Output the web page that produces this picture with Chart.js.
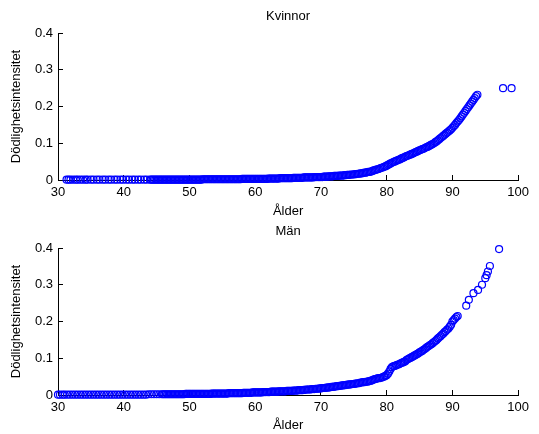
<!DOCTYPE html>
<html>
<head>
<meta charset="utf-8">
<title>Dödlighetsintensitet</title>
<script src="https://cdn.jsdelivr.net/npm/chart.js@4.4.1/dist/chart.umd.min.js"></script>
<style>
  html, body { margin: 0; padding: 0; background: #fff; }
  #wrap { position: relative; width: 539px; height: 434px; overflow: hidden; }
  #wrap canvas { position: absolute; left: 0; }
  #kvinnor { top: 0; }
  #man { top: 215px; }
</style>
</head>
<body>
<div id="wrap">
  <canvas id="kvinnor" width="539" height="225"></canvas>
  <canvas id="man" width="539" height="219"></canvas>
</div>
<script>
// Axis ticks
const xTicks = [30, 40, 50, 60, 70, 80, 90, 100];
const xTickLabels = ['30', '40', '50', '60', '70', '80', '90', '100'];
const yTicks = [0, 0.1, 0.2, 0.3, 0.4];
const yTickLabels = ['0', '0.1', '0.2', '0.3', '0.4'];

// Kvinnor: age and mortality intensity
const womenAge = [
  31.3, 31.6, 31.9, 32.3, 32.7, 33.0, 33.4, 33.8, 34.2, 34.5, 35.0, 35.4, 35.9, 36.3, 36.8, 37.2,
  37.7, 38.1, 38.6, 39.0, 39.5, 39.9, 40.4, 40.8, 41.3, 41.7, 42.2, 42.6, 43.1, 43.5,
  44.0, 44.2, 44.4, 44.6, 44.8, 45.0, 45.2, 45.4, 45.6, 45.8, 46.0, 46.2, 46.4, 46.6, 46.8,
  47.0, 47.2, 47.4, 47.6, 47.8, 48.0, 48.2, 48.4, 48.6, 48.8, 49.0, 49.2, 49.4, 49.6, 49.8,
  50.0, 50.2, 50.4, 50.6, 50.8, 51.0, 51.2, 51.4, 51.6, 51.8, 52.0, 52.2, 52.4, 52.6, 52.8,
  53.0, 53.2, 53.4, 53.6, 53.8, 54.0, 54.2, 54.4, 54.6, 54.8, 55.0, 55.2, 55.4, 55.6, 55.8,
  56.0, 56.2, 56.4, 56.6, 56.8, 57.0, 57.2, 57.4, 57.6, 57.8, 58.0, 58.2, 58.4, 58.6, 58.8,
  59.0, 59.2, 59.4, 59.6, 59.8, 60.0, 60.2, 60.4, 60.6, 60.8, 61.0, 61.2, 61.4, 61.6, 61.8,
  62.0, 62.2, 62.4, 62.6, 62.8, 63.0, 63.2, 63.4, 63.6, 63.8, 64.0, 64.2, 64.4, 64.6, 64.8,
  65.0, 65.2, 65.4, 65.6, 65.8, 66.0, 66.2, 66.4, 66.6, 66.8, 67.0, 67.2, 67.4, 67.6, 67.8,
  68.0, 68.2, 68.4, 68.6, 68.8, 69.0, 69.2, 69.4, 69.6, 69.8, 70.0, 70.2, 70.4, 70.6, 70.8,
  71.0, 71.2, 71.4, 71.6, 71.8, 72.0, 72.2, 72.4, 72.6, 72.8, 73.0, 73.2, 73.4, 73.6, 73.8,
  74.0, 74.2, 74.4, 74.6, 74.8, 75.0, 75.2, 75.4, 75.6, 75.8, 76.0, 76.2, 76.4, 76.6, 76.8,
  77.0, 77.2, 77.4, 77.6, 77.8, 78.0, 78.2, 78.4, 78.6, 78.8, 79.0, 79.2, 79.4, 79.6, 79.8,
  80.0, 80.2, 80.4, 80.6, 80.8, 81.0, 81.2, 81.4, 81.6, 81.8, 82.0, 82.2, 82.4, 82.6, 82.8,
  83.0, 83.2, 83.4, 83.6, 83.8, 84.0, 84.2, 84.4, 84.6, 84.8, 85.0, 85.2, 85.4, 85.6, 85.8,
  86.0, 86.2, 86.4, 86.6, 86.8, 87.0, 87.2, 87.4, 87.6, 87.8, 88.0, 88.2, 88.4, 88.6, 88.8,
  89.0, 89.2, 89.4, 89.6, 89.8, 90.0, 90.2, 90.4, 90.6, 90.8, 91.0, 91.2, 91.4, 91.6, 91.8,
  92.0, 92.2, 92.4, 92.6, 92.8, 93.0, 93.2, 93.4, 93.6, 93.8,
  97.7, 99.0
];
const womenRate = [
  0.001, 0.001, 0.001, 0.001, 0.001, 0.001, 0.001, 0.001, 0.001, 0.001, 0.001, 0.001, 0.001, 0.001, 0.001, 0.001,
  0.001, 0.001, 0.001, 0.001, 0.001, 0.001, 0.001, 0.001, 0.001, 0.001, 0.001, 0.001, 0.001, 0.001,
  0.001, 0.001, 0.001, 0.001, 0.001, 0.001, 0.001, 0.001, 0.001, 0.001, 0.001, 0.001, 0.001, 0.001, 0.001,
  0.001, 0.001, 0.001, 0.001, 0.001, 0.001, 0.001, 0.001, 0.001, 0.001, 0.001, 0.001, 0.001, 0.001, 0.001,
  0.001, 0.001, 0.001, 0.001, 0.001, 0.001, 0.001, 0.001, 0.001, 0.001, 0.002, 0.002, 0.002, 0.002, 0.002,
  0.002, 0.002, 0.002, 0.002, 0.002, 0.002, 0.002, 0.002, 0.002, 0.002, 0.002, 0.002, 0.002, 0.002, 0.002,
  0.002, 0.002, 0.002, 0.002, 0.002, 0.002, 0.002, 0.002, 0.002, 0.002, 0.003, 0.003, 0.003, 0.003, 0.003,
  0.003, 0.003, 0.003, 0.003, 0.003, 0.003, 0.003, 0.003, 0.003, 0.003, 0.003, 0.003, 0.003, 0.003, 0.003,
  0.004, 0.004, 0.004, 0.004, 0.004, 0.004, 0.004, 0.004, 0.004, 0.005, 0.005, 0.005, 0.005, 0.005, 0.005,
  0.005, 0.005, 0.005, 0.005, 0.006, 0.006, 0.006, 0.006, 0.006, 0.006, 0.006, 0.006, 0.007, 0.007, 0.007,
  0.007, 0.007, 0.007, 0.007, 0.007, 0.008, 0.008, 0.008, 0.008, 0.008, 0.008, 0.008, 0.009, 0.009, 0.009,
  0.009, 0.010, 0.010, 0.010, 0.010, 0.011, 0.011, 0.011, 0.011, 0.012, 0.012, 0.012, 0.012, 0.013, 0.013,
  0.014, 0.014, 0.014, 0.015, 0.015, 0.015, 0.016, 0.016, 0.017, 0.017, 0.018, 0.018, 0.019, 0.020, 0.020,
  0.021, 0.022, 0.022, 0.023, 0.024, 0.026, 0.027, 0.028, 0.029, 0.030, 0.032, 0.033, 0.034, 0.036, 0.037,
  0.039, 0.041, 0.043, 0.045, 0.047, 0.049, 0.050, 0.052, 0.053, 0.055, 0.056, 0.058, 0.060, 0.061, 0.063,
  0.065, 0.066, 0.068, 0.069, 0.071, 0.072, 0.074, 0.076, 0.077, 0.079, 0.081, 0.082, 0.084, 0.085, 0.087,
  0.089, 0.090, 0.092, 0.094, 0.096, 0.098, 0.100, 0.103, 0.105, 0.108, 0.111, 0.114, 0.117, 0.120, 0.123,
  0.126, 0.129, 0.132, 0.135, 0.138, 0.142, 0.146, 0.150, 0.155, 0.159, 0.163, 0.168, 0.173, 0.178, 0.183,
  0.188, 0.193, 0.198, 0.203, 0.208, 0.213, 0.218, 0.223, 0.228, 0.232,
  0.250, 0.250
];

// Män
const menAge = [
  30.0, 30.3, 30.7, 31.0, 31.4, 31.8, 32.2, 32.6, 33.0, 33.4, 33.8, 34.2, 34.6, 35.0, 35.4, 35.8,
  36.2, 36.6, 37.0, 37.4, 37.8, 38.2, 38.6, 39.0, 39.4, 39.8, 40.2, 40.6, 41.0, 41.4, 41.8, 42.2,
  42.6, 43.0, 43.4, 43.8, 44.2, 44.6, 45.0, 45.4, 45.8,
  46.0, 46.2, 46.4, 46.6, 46.8, 47.0, 47.2, 47.4, 47.6, 47.8, 48.0, 48.2, 48.4, 48.6, 48.8,
  49.0, 49.2, 49.4, 49.6, 49.8, 50.0, 50.2, 50.4, 50.6, 50.8, 51.0, 51.2, 51.4, 51.6, 51.8,
  52.0, 52.2, 52.4, 52.6, 52.8, 53.0, 53.2, 53.4, 53.6, 53.8, 54.0, 54.2, 54.4, 54.6, 54.8,
  55.0, 55.2, 55.4, 55.6, 55.8, 56.0, 56.2, 56.4, 56.6, 56.8, 57.0, 57.2, 57.4, 57.6, 57.8,
  58.0, 58.2, 58.4, 58.6, 58.8, 59.0, 59.2, 59.4, 59.6, 59.8, 60.0, 60.2, 60.4, 60.6, 60.8,
  61.0, 61.2, 61.4, 61.6, 61.8, 62.0, 62.2, 62.4, 62.6, 62.8, 63.0, 63.2, 63.4, 63.6, 63.8,
  64.0, 64.2, 64.4, 64.6, 64.8, 65.0, 65.2, 65.4, 65.6, 65.8, 66.0, 66.2, 66.4, 66.6, 66.8,
  67.0, 67.2, 67.4, 67.6, 67.8, 68.0, 68.2, 68.4, 68.6, 68.8, 69.0, 69.2, 69.4, 69.6, 69.8,
  70.0, 70.2, 70.4, 70.6, 70.8, 71.0, 71.2, 71.4, 71.6, 71.8, 72.0, 72.2, 72.4, 72.6, 72.8,
  73.0, 73.2, 73.4, 73.6, 73.8, 74.0, 74.2, 74.4, 74.6, 74.8, 75.0, 75.2, 75.4, 75.6, 75.8,
  76.0, 76.2, 76.4, 76.6, 76.8, 77.0, 77.2, 77.4, 77.6, 77.8, 78.0, 78.2, 78.4, 78.6, 78.8,
  79.0, 79.2, 79.4, 79.6, 79.8, 80.0, 80.2, 80.4, 80.6, 80.8, 81.0, 81.2, 81.4, 81.6, 81.8,
  82.0, 82.2, 82.4, 82.6, 82.8, 83.0, 83.2, 83.4, 83.6, 83.8, 84.0, 84.2, 84.4, 84.6, 84.8,
  85.0, 85.2, 85.4, 85.6, 85.8, 86.0, 86.2, 86.4, 86.6, 86.8, 87.0, 87.2, 87.4, 87.6, 87.8,
  88.0, 88.2, 88.4, 88.6, 88.8, 89.0, 89.2, 89.4, 89.6, 89.8, 90.0, 90.2, 90.4, 90.6, 90.8,
  92.1, 92.5, 93.2, 93.9, 94.5, 95.0, 95.2, 95.4, 95.7, 97.1
];
const menRate = [
  0.001, 0.001, 0.001, 0.001, 0.001, 0.001, 0.001, 0.001, 0.001, 0.001, 0.001, 0.001, 0.001, 0.001, 0.001, 0.001,
  0.001, 0.001, 0.001, 0.001, 0.001, 0.001, 0.001, 0.001, 0.001, 0.001, 0.001, 0.001, 0.001, 0.001, 0.001, 0.001,
  0.001, 0.001, 0.001, 0.002, 0.002, 0.002, 0.002, 0.002, 0.002,
  0.002, 0.002, 0.002, 0.002, 0.002, 0.002, 0.002, 0.002, 0.002, 0.002, 0.002, 0.002, 0.002, 0.002, 0.002,
  0.002, 0.002, 0.003, 0.003, 0.003, 0.003, 0.003, 0.003, 0.003, 0.003, 0.003, 0.003, 0.003, 0.003, 0.003,
  0.003, 0.003, 0.003, 0.003, 0.003, 0.003, 0.003, 0.004, 0.004, 0.004, 0.004, 0.004, 0.004, 0.004, 0.004,
  0.004, 0.004, 0.004, 0.004, 0.004, 0.005, 0.005, 0.005, 0.005, 0.005, 0.005, 0.005, 0.005, 0.005, 0.005,
  0.005, 0.006, 0.006, 0.006, 0.006, 0.006, 0.006, 0.006, 0.007, 0.007, 0.007, 0.007, 0.007, 0.007, 0.007,
  0.007, 0.008, 0.008, 0.008, 0.008, 0.008, 0.008, 0.009, 0.009, 0.009, 0.009, 0.009, 0.009, 0.010, 0.010,
  0.010, 0.010, 0.010, 0.010, 0.011, 0.011, 0.011, 0.011, 0.011, 0.012, 0.012, 0.012, 0.012, 0.013, 0.013,
  0.013, 0.013, 0.014, 0.014, 0.015, 0.015, 0.015, 0.015, 0.016, 0.016, 0.016, 0.017, 0.017, 0.017, 0.018,
  0.018, 0.019, 0.019, 0.019, 0.020, 0.020, 0.021, 0.021, 0.022, 0.022, 0.023, 0.023, 0.024, 0.024, 0.025,
  0.025, 0.026, 0.026, 0.027, 0.027, 0.028, 0.028, 0.029, 0.029, 0.030, 0.030, 0.031, 0.031, 0.032, 0.032,
  0.034, 0.034, 0.035, 0.035, 0.036, 0.036, 0.037, 0.038, 0.039, 0.040, 0.042, 0.043, 0.044, 0.045, 0.046,
  0.046, 0.047, 0.049, 0.050, 0.052, 0.054, 0.058, 0.064, 0.071, 0.076, 0.078, 0.079, 0.080, 0.082, 0.083,
  0.085, 0.087, 0.088, 0.090, 0.091, 0.095, 0.097, 0.099, 0.101, 0.103, 0.105, 0.107, 0.109, 0.111, 0.113,
  0.116, 0.118, 0.120, 0.123, 0.125, 0.128, 0.131, 0.133, 0.136, 0.138, 0.141, 0.144, 0.147, 0.150, 0.154,
  0.157, 0.160, 0.164, 0.167, 0.171, 0.174, 0.178, 0.181, 0.186, 0.191, 0.200, 0.204, 0.208, 0.212, 0.215,
  0.243, 0.259, 0.277, 0.286, 0.300, 0.318, 0.326, 0.336, 0.351, 0.397
];

const FONT = "'Liberation Sans', Arial, Helvetica, sans-serif";
const textFont = { family: FONT, size: 13, weight: 'normal', lineHeight: 1.2 };

function makeChart(id, title, ages, rates, axisHeight, titleBottom) {
  return new Chart(document.getElementById(id), {
    type: 'scatter',
    data: {
      datasets: [{
        data: ages.map((a, i) => ({ x: a, y: rates[i] })),
        pointStyle: 'circle',
        pointRadius: 3.5,
        pointHoverRadius: 3.5,
        pointBorderWidth: 1.2,
        borderColor: '#0000ff',
        backgroundColor: 'rgba(0,0,0,0)',
        clip: false
      }]
    },
    options: {
      responsive: false,
      animation: false,
      events: [],
      layout: { padding: { left: 0, right: 11, top: 0, bottom: 0 } },
      plugins: {
        legend: { display: false },
        tooltip: { enabled: false },
        title: {
          display: true,
          text: title,
          fullSize: false,
          color: '#000',
          font: textFont,
          padding: { top: 9, bottom: 8.4 }
        }
      },
      scales: {
        x: {
          type: 'linear',
          min: 30,
          max: 100,
          afterBuildTicks: s => { s.ticks = xTicks.map(v => ({ value: v })); },
          afterFit: s => { s.height = axisHeight; },
          grid: { drawOnChartArea: false, drawTicks: true, tickLength: -5, color: '#000' },
          border: { color: '#000', width: 1 },
          ticks: {
            color: '#000', padding: 10, font: textFont,
            maxRotation: 0, autoSkip: false,
            callback: (v, i) => xTickLabels[i]
          },
          title: { display: true, text: 'Ålder', color: '#000', font: textFont, padding: { top: 0, bottom: titleBottom } }
        },
        y: {
          type: 'linear',
          min: 0,
          max: 0.4,
          afterBuildTicks: s => { s.ticks = yTicks.map(v => ({ value: v })); },
          afterFit: s => { s.width = 58; },
          grid: { drawOnChartArea: false, drawTicks: true, tickLength: -5, color: '#000' },
          border: { color: '#000', width: 1 },
          ticks: {
            color: '#000', padding: 10, font: textFont,
            callback: (v, i) => yTickLabels[i]
          },
          title: { display: true, text: 'Dödlighetsintensitet', color: '#000', font: textFont, padding: { top: 9, bottom: 0 } }
        }
      }
    }
  });
}

makeChart('kvinnor', 'Kvinnor', womenAge, womenRate, 45, 5.7);
makeChart('man', 'Män', menAge, menRate, 39, 1);
</script>
</body>
</html>
